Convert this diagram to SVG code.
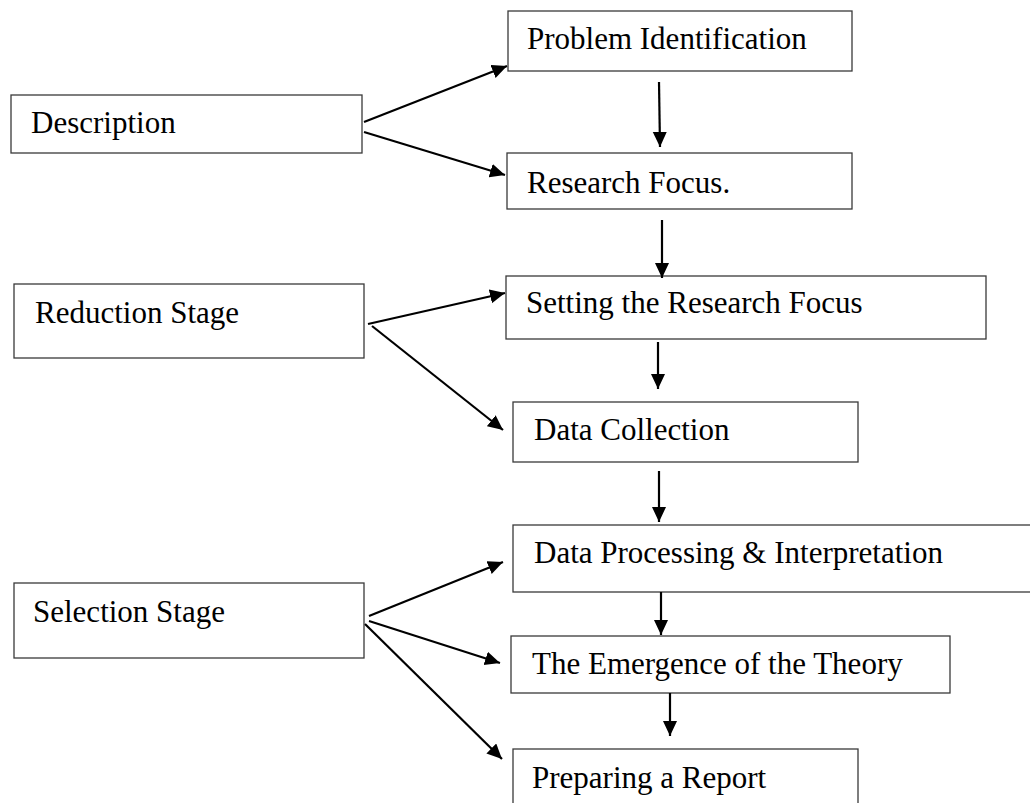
<svg xmlns="http://www.w3.org/2000/svg" width="1030" height="803" viewBox="0 0 1030 803">
<style>
.box{fill:#fff;stroke:#3a3a3a;stroke-width:1.3}
.lbl{font-family:"Liberation Serif","Times New Roman",serif;font-size:31px;fill:#000}
.arr{stroke:#000;stroke-width:2.2;fill:none;marker-end:url(#ah)}
</style>
<defs>
<marker id="ah" markerUnits="userSpaceOnUse" markerWidth="16" markerHeight="15" refX="15" refY="7" orient="auto" viewBox="0 0 16 15">
<path d="M0,0 L15,7 L0,14 z" fill="#000"/>
</marker>
</defs>
<rect width="1030" height="803" fill="#fff"/>
<g id="description"><rect class="box" x="11" y="95" width="351" height="58"/><text class="lbl" x="31" y="133">Description</text></g>
<g id="reduction"><rect class="box" x="14" y="284" width="350" height="74"/><text class="lbl" x="35" y="323">Reduction Stage</text></g>
<g id="selection"><rect class="box" x="14" y="583" width="350" height="75"/><text class="lbl" x="33" y="622">Selection Stage</text></g>
<g id="problem"><rect class="box" x="508" y="11" width="344" height="60"/><text class="lbl" x="527" y="49">Problem Identification</text></g>
<g id="focus"><rect class="box" x="507" y="153" width="345" height="56"/><text class="lbl" x="527" y="193">Research Focus.</text></g>
<g id="setting"><rect class="box" x="506" y="276" width="480" height="63"/><text class="lbl" x="526" y="313">Setting the Research Focus</text></g>
<g id="collection"><rect class="box" x="513" y="402" width="345" height="60"/><text class="lbl" x="534" y="440">Data Collection</text></g>
<g id="processing"><rect class="box" x="513" y="525" width="530" height="67"/><text class="lbl" x="534" y="563">Data Processing &amp; Interpretation</text></g>
<g id="theory"><rect class="box" x="511" y="636" width="439" height="57"/><text class="lbl" x="532" y="674">The Emergence of the Theory</text></g>
<g id="report"><rect class="box" x="513" y="749" width="345" height="70"/><text class="lbl" x="532" y="788">Preparing a Report</text></g>
<g id="connectors">
<line class="arr" x1="364" y1="122" x2="507" y2="66"/>
<line class="arr" x1="364" y1="132" x2="505" y2="175"/>
<line class="arr" x1="659" y1="82" x2="660" y2="147"/>
<line class="arr" x1="662" y1="220" x2="662" y2="278"/>
<line class="arr" x1="368" y1="324" x2="505" y2="293"/>
<line class="arr" x1="372" y1="326" x2="503" y2="430"/>
<line class="arr" x1="658" y1="342" x2="658" y2="389"/>
<line class="arr" x1="659" y1="471" x2="659" y2="522"/>
<line class="arr" x1="369" y1="616" x2="503" y2="562"/>
<line class="arr" x1="369" y1="621" x2="500" y2="663"/>
<line class="arr" x1="365" y1="624" x2="502" y2="759"/>
<line class="arr" x1="661" y1="592" x2="661" y2="635"/>
<line class="arr" x1="670" y1="693" x2="670" y2="736"/>
</g>
</svg>
